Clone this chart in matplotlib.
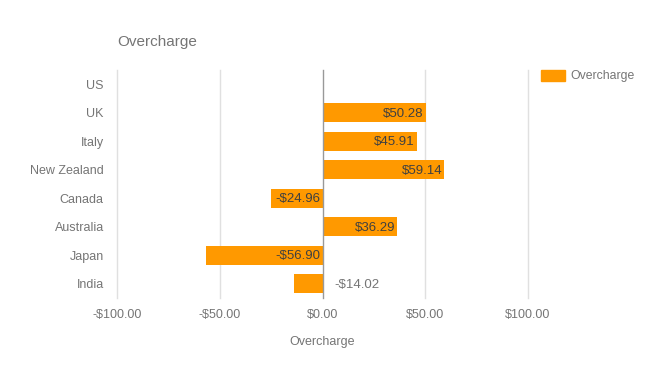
import matplotlib
matplotlib.use('Agg')
import matplotlib.pyplot as plt
import matplotlib.patches as patches

# data
countries = ['US', 'UK', 'Italy', 'New Zealand', 'Canada', 'Australia', 'Japan', 'India']
overcharge = [0.0, 50.28, 45.91, 59.14, -24.96, 36.29, -56.90, -14.02]
x_ticks = [-100, -50, 0, 50, 100]

plt.rcParams['font.family'] = ['Liberation Sans', 'DejaVu Sans']

W, H = 646, 369
fig = plt.figure(figsize=(W / 100, H / 100), dpi=100)
ax = fig.add_axes([117 / W, (H - 298) / H, (528 - 117) / W, (298 - 70) / H])

def fmt(v):
    return ('-$%.2f' % abs(v)) if v < 0 else ('$%.2f' % v)

bar_color = '#ff9900'
ypos = list(range(len(countries)))
ax.barh(ypos, overcharge, height=0.65, color=bar_color, zorder=3)

ax.set_xlim(-100, 100)
ax.set_ylim(len(countries) - 0.5, -0.5)

# value labels
px = 200 / (528 - 117)  # data units per pixel
for y, v in zip(ypos, overcharge):
    if v == 0:
        continue
    if v > 0:
        ax.text(v - 2 * px, y + 0.03, fmt(v), ha='right', va='center', fontsize=9.5, color='#404040', zorder=4)
    elif abs(v) / px > 45:
        ax.text(-2 * px, y + 0.03, fmt(v), ha='right', va='center', fontsize=9.5, color='#404040', zorder=4)
    else:
        ax.text(12 * px, y + 0.03, fmt(v), ha='left', va='center', fontsize=9.5, color='#757575', zorder=4)

# grid
for t in x_ticks:
    ax.axvline(t, color='#999999' if t == 0 else '#e0e0e0', lw=1,
               zorder=5 if t == 0 else 1, clip_on=False)

ax.set_xticks(x_ticks)
ax.set_xticklabels([fmt(t) for t in x_ticks])
ax.set_yticks(ypos)
ax.set_yticklabels(countries)
ax.tick_params(axis='both', length=0, labelsize=9, labelcolor='#757575')
ax.tick_params(axis='x', pad=8)
ax.tick_params(axis='y', pad=9.5)
for s in ax.spines.values():
    s.set_visible(False)

ax.set_xlabel('Overcharge', fontsize=9, color='#757575', labelpad=11)

fig.text(117 / W, 1 - 42 / H, 'Overcharge', fontsize=11, color='#757575', ha='left', va='center')

# legend
fig.patches.append(patches.Rectangle((541 / W, 1 - 81 / H), 24 / W, 11 / H,
                                     transform=fig.transFigure, color=bar_color))
fig.text(570 / W, 1 - 76 / H, 'Overcharge', fontsize=8.8, color='#757575', ha='left', va='center')

fig.savefig('out.png', dpi=100)
